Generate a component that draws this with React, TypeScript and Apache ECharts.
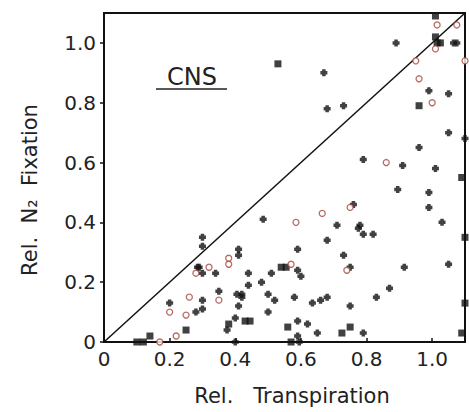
import React, { useEffect, useRef } from "react";
import * as echarts from "echarts";

const xTicks = [0, 0.2, 0.4, 0.6, 0.8, 1.0];
const yTicks = [0, 0.2, 0.4, 0.6, 0.8, 1.0];

const squarePoints: number[][] = [
  [0.53, 0.93], [0.96, 0.79], [1.01, 1.09], [1.01, 1.02], [1.015, 1.0], [1.025, 1.0],
  [1.09, 0.55], [1.1, 0.35], [1.1, 0.13], [1.09, 0.03], [0.725, 0.03], [0.75, 0.05],
  [0.56, 0.05], [0.54, 0.25], [0.555, 0.25], [0.43, 0.07], [0.445, 0.07], [0.38, 0.06],
  [0.25, 0.04], [0.14, 0.02], [0.1, 0.0], [0.12, 0.0], [0.57, 0.0],
];

const plusPoints: number[][] = [
  [0.3, 0.35], [0.3, 0.32], [0.29, 0.25], [0.3, 0.23], [0.285, 0.25], [0.34, 0.23],
  [0.35, 0.17], [0.2, 0.13], [0.3, 0.14], [0.28, 0.1], [0.3, 0.11],
  [0.485, 0.41], [0.71, 0.39], [0.68, 0.34], [0.59, 0.31], [0.41, 0.31], [0.41, 0.29],
  [0.73, 0.29], [0.59, 0.24], [0.6, 0.22], [0.44, 0.23], [0.51, 0.23], [0.44, 0.19],
  [0.48, 0.2], [0.405, 0.16], [0.42, 0.16], [0.42, 0.15], [0.41, 0.12], [0.5, 0.16],
  [0.52, 0.14], [0.58, 0.15], [0.635, 0.13], [0.66, 0.14], [0.68, 0.15], [0.5, 0.1],
  [0.4, 0.08], [0.375, 0.04], [0.59, 0.07], [0.62, 0.06], [0.59, 0.02], [0.65, 0.03],
  [0.4, 0.0], [0.595, 0.0],
  [0.895, 0.51], [0.99, 0.5], [0.99, 0.45], [1.03, 0.4], [0.76, 0.46], [0.78, 0.39],
  [0.775, 0.38], [0.79, 0.36], [0.82, 0.36], [0.75, 0.25], [0.915, 0.25], [1.05, 0.26],
  [0.87, 0.18], [0.83, 0.15], [0.75, 0.12], [0.79, 0.03],
  [0.67, 0.9], [0.68, 0.78], [0.73, 0.79], [1.065, 1.0], [1.075, 1.0], [0.89, 1.0],
  [0.99, 0.84], [1.05, 0.83], [1.05, 0.7], [1.1, 0.68], [0.96, 0.65], [0.79, 0.61],
  [0.91, 0.59], [1.01, 0.58],
];

const circlePoints: number[][] = [
  [0.32, 0.25], [0.28, 0.23], [0.35, 0.14], [0.26, 0.15], [0.2, 0.1], [0.25, 0.09],
  [0.22, 0.02], [0.17, 0.0], [0.585, 0.4], [0.665, 0.43], [0.38, 0.28], [0.38, 0.26],
  [0.57, 0.26], [0.75, 0.45], [0.74, 0.24], [1.015, 1.06], [1.075, 1.06], [1.01, 0.98],
  [0.95, 0.94], [1.1, 0.94], [0.96, 0.88], [1.0, 0.8], [0.86, 0.6],
];

const oneToOne: number[][] = [[0, 0], [1.1, 1.1]];

const FONT = "DejaVu Sans";
const PLUS = "path://M2.5,0H7.5V2.5H10V7.5H7.5V10H2.5V7.5H0V2.5H2.5Z";

export default function App() {
  const ref = useRef<HTMLDivElement>(null);
  useEffect(() => {
    if (!ref.current) return;
    const chart = echarts.init(ref.current, undefined, { renderer: "svg" });
    const fmt = (v: number) => {
      if (Math.abs(v) < 1e-9) return "0";
      const t = [...xTicks, ...yTicks].find((k) => Math.abs(k - v) < 1e-6);
      return t === undefined ? "" : v.toFixed(1);
    };
    chart.setOption({
      animation: false,
      backgroundColor: "#ffffff",
      grid: {
        left: 104, right: 4, top: 13, bottom: 70,
        show: true, borderColor: "#111", borderWidth: 2,
      },
      xAxis: {
        type: "value", min: 0, max: 1.1, interval: 0.2,
        axisLine: { show: true, lineStyle: { color: "#111", width: 2 } },
        axisTick: { show: true, inside: true, length: 4, lineStyle: { color: "#111", width: 1.5 } },
        splitLine: { show: false },
        axisLabel: {
          formatter: fmt, showMaxLabel: false, margin: 7,
          color: "#222", fontSize: 20, fontFamily: FONT,
        },
      },
      yAxis: {
        type: "value", min: 0, max: 1.1, interval: 0.2,
        axisLine: { show: true, lineStyle: { color: "#111", width: 2 } },
        axisTick: { show: true, length: 4, lineStyle: { color: "#111", width: 1.5 } },
        splitLine: { show: false },
        axisLabel: {
          formatter: fmt, showMaxLabel: false, margin: 8,
          color: "#222", fontSize: 20, fontFamily: FONT,
        },
      },
      graphic: [
        {
          type: "text", x: 292, y: 396,
          style: {
            text: "Rel.   Transpiration", fill: "#222", fontSize: 21, fontFamily: FONT,
            align: "center", verticalAlign: "middle",
          },
        },
        {
          type: "text", x: 30, y: 190, rotation: Math.PI / 2,
          style: {
            text: "Rel.  N\u2082  Fixation", fill: "#222", fontSize: 21, fontFamily: FONT,
            align: "center", verticalAlign: "middle",
          },
        },
        {
          type: "text", x: 192, y: 77,
          style: {
            text: "CNS", fill: "#222", fontSize: 24, fontFamily: FONT,
            align: "center", verticalAlign: "middle",
          },
        },
        {
          type: "line",
          shape: { x1: 156, y1: 89, x2: 227, y2: 89 },
          style: { stroke: "#222", lineWidth: 1.5 },
        },
      ],
      series: [
        {
          type: "line", data: oneToOne, symbol: "none",
          lineStyle: { color: "#111", width: 1.5 }, silent: true, z: 1,
        },
        {
          type: "scatter", data: squarePoints, symbol: "rect", symbolSize: 7,
          itemStyle: { color: "#111" }, clip: false, z: 3,
        },
        {
          type: "scatter", data: plusPoints, symbol: PLUS, symbolSize: 7,
          itemStyle: { color: "#111" }, clip: false, z: 3,
        },
        {
          type: "scatter", data: circlePoints, symbol: "circle", symbolSize: 6,
          itemStyle: { color: "#ffffff", borderColor: "#a8453c", borderWidth: 1.3 },
          clip: false, z: 4,
        },
      ],
    });
    return () => chart.dispose();
  }, []);
  return (
    <div
      ref={ref}
      style={{ position: "fixed", left: 0, top: 0, width: 469, height: 412, background: "#fff" }}
    />
  );
}
